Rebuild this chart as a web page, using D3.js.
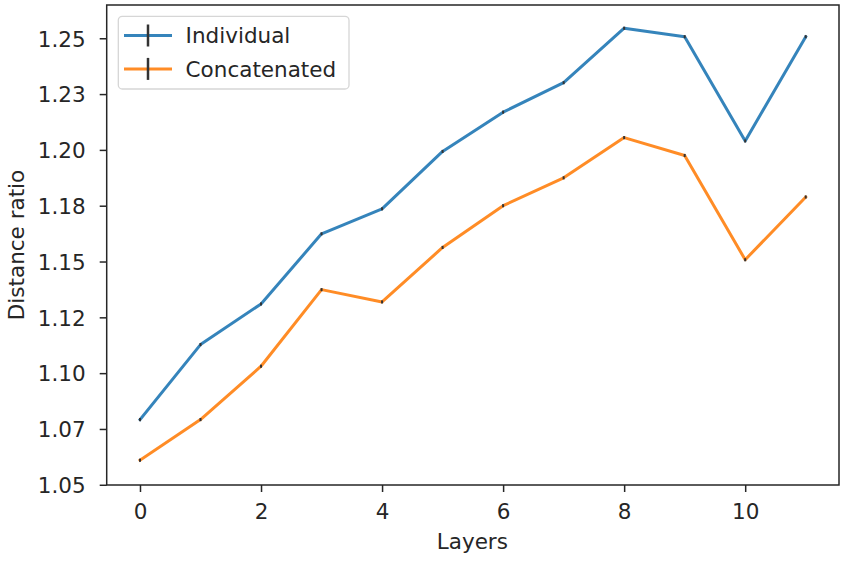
<!DOCTYPE html>
<html>
<head>
<meta charset="utf-8">
<script src="https://cdn.jsdelivr.net/npm/d3@7"></script>
<style>
  html, body { margin: 0; padding: 0; background: #ffffff; }
  svg { display: block; }
  text { font-family: "DejaVu Sans", sans-serif; fill: #262626; }
</style>
</head>
<body>
<svg id="chart" width="846" height="562"></svg>
<script>
const layers = [0, 1, 2, 3, 4, 5, 6, 7, 8, 9, 10, 11];
const individual = [1.0792, 1.1128, 1.1310, 1.1624, 1.1736, 1.1993, 1.2169, 1.2301, 1.2545, 1.2507, 1.2040, 1.2507];
const individualErr = [0.0007, 0.0007, 0.0007, 0.0007, 0.0007, 0.0007, 0.0007, 0.0007, 0.0007, 0.0007, 0.0007, 0.0007];
const concatenated = [1.0610, 1.0792, 1.1031, 1.1374, 1.1319, 1.1563, 1.1750, 1.1875, 1.2055, 1.1975, 1.1508, 1.1789];
const concatenatedErr = [0.0007, 0.0007, 0.0007, 0.0007, 0.0007, 0.0007, 0.0007, 0.0007, 0.0007, 0.0007, 0.0007, 0.0007];
const seriesNames = ["Individual", "Concatenated"];
const seriesColors = ["#1f77b4", "#ff7f0e"];
const xTicks = [0, 2, 4, 6, 8, 10];
const yTicks = [1.05, 1.075, 1.10, 1.125, 1.15, 1.175, 1.20, 1.225, 1.25];
const yTickLabels = ["1.05", "1.07", "1.10", "1.12", "1.15", "1.18", "1.20", "1.23", "1.25"];
const xLabel = "Layers";
const yLabel = "Distance ratio";

(function () {
const FS = 21.5;
const pL = 106.7, pR = 839, pT = 5, pB = 485;
const svg = d3.select("#chart");

const x = d3.scaleLinear().domain([-0.55, 11.55]).range([pL, pR]);
const y = d3.scaleLinear().domain([1.0499, 1.2649]).range([pB, pT]);

const series = [
  { name: seriesNames[0], color: seriesColors[0], values: individual, err: individualErr },
  { name: seriesNames[1], color: seriesColors[1], values: concatenated, err: concatenatedErr }
];

// lines
const line = d3.line().x(d => x(d.x)).y(d => y(d.y));
series.forEach(s => {
  const pts = layers.map((l, i) => ({ x: l, y: s.values[i], e: s.err[i] }));
  svg.append("path")
    .datum(pts)
    .attr("d", line)
    .attr("fill", "none")
    .attr("stroke", s.color)
    .attr("stroke-opacity", 0.9)
    .attr("stroke-width", 3)
    .attr("stroke-linejoin", "round")
    .attr("stroke-linecap", "square");
  svg.append("g").selectAll("line")
    .data(pts)
    .join("line")
    .attr("x1", d => x(d.x)).attr("x2", d => x(d.x))
    .attr("y1", d => y(d.y - d.e)).attr("y2", d => y(d.y + d.e))
    .attr("stroke", "#333")
    .attr("stroke-width", 2);
});

// axes
const xAxis = d3.axisBottom(x).tickValues(xTicks).tickSize(7).tickPadding(11).tickFormat(d3.format("d"));
const gx = svg.append("g").attr("transform", `translate(0,${pB})`).call(xAxis);
gx.select(".domain").remove();
gx.selectAll(".tick line").attr("stroke", "#262626").attr("stroke-width", 1.5);
gx.selectAll(".tick text").attr("font-size", FS).attr("font-family", "DejaVu Sans").attr("fill", "#262626").attr("dy", "0.76em");

const yAxis = d3.axisLeft(y).tickValues(yTicks).tickSize(7).tickPadding(14).tickFormat((d, i) => yTickLabels[i]);
const gy = svg.append("g").attr("transform", `translate(${pL},0)`).call(yAxis);
gy.select(".domain").remove();
gy.selectAll(".tick line").attr("stroke", "#262626").attr("stroke-width", 1.5);
gy.selectAll(".tick text").attr("font-size", FS).attr("font-family", "DejaVu Sans").attr("fill", "#262626").attr("dy", "0.36em");

// frame
svg.append("rect")
  .attr("x", pL).attr("y", pT)
  .attr("width", pR - pL).attr("height", pB - pT)
  .attr("fill", "none").attr("stroke", "#262626").attr("stroke-width", 1.5);

// labels
svg.append("text")
  .attr("x", (pL + pR) / 2 - 0.5).attr("y", 549)
  .attr("text-anchor", "middle").attr("font-size", FS)
  .text(xLabel);
svg.append("text")
  .attr("transform", `translate(24,${(pT + pB) / 2}) rotate(-90)`)
  .attr("text-anchor", "middle").attr("font-size", FS)
  .text(yLabel);

// legend
const lg = svg.append("g");
lg.append("rect")
  .attr("x", 118.3).attr("y", 16.3).attr("width", 230.7).attr("height", 72.7)
  .attr("rx", 4).attr("fill", "#ffffff").attr("fill-opacity", 0.8)
  .attr("stroke", "#d6d6d6").attr("stroke-width", 1.3);
series.forEach((s, i) => {
  const yy = 35.5 + i * 33.4;
  lg.append("line").attr("x1", 124).attr("x2", 172).attr("y1", yy).attr("y2", yy)
    .attr("stroke", s.color).attr("stroke-opacity", 0.9).attr("stroke-width", 3);
  lg.append("line").attr("x1", 148).attr("x2", 148).attr("y1", yy - 11).attr("y2", yy + 11)
    .attr("stroke", "#333").attr("stroke-width", 2.5);
  lg.append("text").attr("x", 185.6).attr("y", yy + 7.7).attr("font-size", FS).text(s.name);
});
})();
</script>
</body>
</html>
